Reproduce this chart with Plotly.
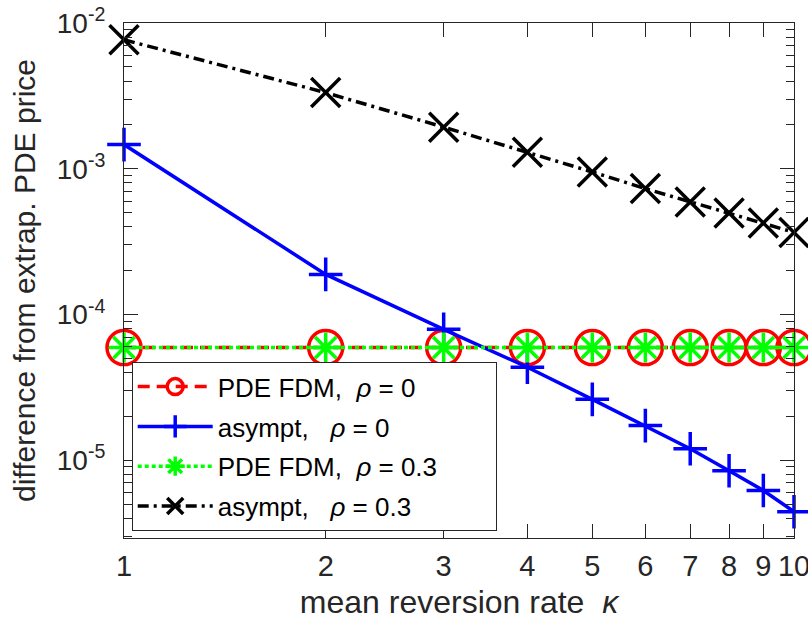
import plotly.graph_objects as go

kappa = [1, 2, 3, 4, 5, 6, 7, 8, 9, 10]
pde_rho0 = [5.93e-5, 5.93e-5, 5.93e-5, 5.93e-5, 5.93e-5, 5.93e-5, 5.93e-5, 5.93e-5, 5.93e-5, 5.93e-5]
asy_rho0 = [1.465e-3, 1.885e-4, 7.92e-5, 4.35e-5, 2.62e-5, 1.73e-5, 1.20e-5, 8.47e-6, 6.21e-6, 4.44e-6]
pde_rho3 = [5.93e-5, 5.93e-5, 5.93e-5, 5.93e-5, 5.93e-5, 5.93e-5, 5.93e-5, 5.93e-5, 5.93e-5, 5.93e-5]
asy_rho3 = [7.67e-3, 3.33e-3, 1.93e-3, 1.30e-3, 9.51e-4, 7.31e-4, 5.92e-4, 4.98e-4, 4.25e-4, 3.66e-4]

names = ["PDE FDM,\u00a0\u00a0<i>ρ</i> = 0",
         "asympt,\u00a0\u00a0\u00a0<i>ρ</i> = 0",
         "PDE FDM,\u00a0\u00a0<i>ρ</i> = 0.3",
         "asympt,\u00a0\u00a0\u00a0<i>ρ</i> = 0.3"]

x_ticks = [1, 2, 3, 4, 5, 6, 7, 8, 9, 10]
x_ticktext = ["1", "2", "3", "4", "5", "6", "7", "8", "9", "10"]
y_major = [1e-5, 1e-4, 1e-3, 1e-2]
y_major_text = ["10<sup>-5</sup>", "10<sup>-4</sup>", "10<sup>-3</sup>", "10<sup>-2</sup>"]
y_minor = [m * 10.0 ** e for e in (-6, -5, -4, -3) for m in range(2, 10) if 3e-6 <= m * 10.0 ** e <= 1e-2]

FONT = "Liberation Sans, Arial, Helvetica, sans-serif"
AX = "#262626"
TXT = "#262626"

fig = go.Figure()
fig.add_trace(go.Scatter(x=kappa, y=pde_rho0, name=names[0], mode="lines+markers", legendgroup="a",
                         cliponaxis=False,
                         line=dict(color="#ff0000", width=3.5, dash="12px,7px"),
                         marker=dict(symbol="circle-open", size=34, color="#ff0000", line=dict(width=3.5, color="#ff0000"))))
fig.add_trace(go.Scatter(x=kappa, y=asy_rho0, name=names[1], mode="lines+markers", legendgroup="b",
                         cliponaxis=False,
                         line=dict(color="#0000ff", width=3.5),
                         marker=dict(symbol="cross-thin-open", size=24, color="#0000ff", line=dict(width=3.5, color="#0000ff"))))
fig.add_trace(go.Scatter(x=kappa, y=pde_rho3, name=names[2], mode="lines+markers", legendgroup="c",
                         cliponaxis=False,
                         line=dict(color="#00ff00", width=3.5, dash="4px,3px"),
                         marker=dict(symbol="asterisk-open", size=25, color="#00ff00", line=dict(width=3.5, color="#00ff00"))))
fig.add_trace(go.Scatter(x=kappa, y=asy_rho3, name=names[3] + "\u00a0" * 11, mode="lines+markers", legendgroup="d",
                         cliponaxis=False,
                         line=dict(color="#000000", width=3.5, dash="11px,5px,3px,5px"),
                         marker=dict(symbol="x-thin-open", size=29, color="#000000", line=dict(width=3.5, color="#000000"))))

y_lo, y_hi = -5.533, -2.0

fig.update_layout(
    width=808, height=624,
    margin=dict(l=124, r=14, t=23, b=86),
    paper_bgcolor="white", plot_bgcolor="white",
    font=dict(family=FONT, size=26, color=TXT),
    showlegend=True,
    legend=dict(x=0.0115, y=0.3414, xanchor="left", yanchor="top",
                bgcolor="white", bordercolor=AX, borderwidth=1,
                font=dict(family=FONT, size=26, color="#000000"),
                itemwidth=75, tracegroupgap=3, itemsizing="trace"),
    xaxis=dict(type="log", range=[0, 1], tickvals=x_ticks, ticktext=x_ticktext,
               ticks="inside", ticklen=14, tickcolor=AX, tickwidth=1,
               showline=True, linecolor=AX, linewidth=1, mirror="ticks",
               showgrid=False, zeroline=False, ticklabelstandoff=2, automargin=False,
               ticklabeloverflow="allow",
               tickfont=dict(family=FONT, size=29, color=TXT),
               title=dict(text="\u00a0\u00a0mean reversion rate\u00a0\u00a0<i>κ</i>", standoff=9,
                          font=dict(family=FONT, size=32, color=TXT))),
    yaxis=dict(type="log", range=[y_lo, y_hi], tickvals=y_major, ticktext=y_major_text,
               ticks="inside", ticklen=14, tickcolor=AX, tickwidth=1,
               showline=True, linecolor=AX, linewidth=1, mirror="ticks",
               showgrid=False, zeroline=False, ticklabelstandoff=12, automargin=False,
               tickfont=dict(family=FONT, size=28, color=TXT),
               minor=dict(tickmode="array", tickvals=y_minor, ticks="inside", ticklen=8,
                          tickcolor=AX, tickwidth=1, showgrid=False),
               title=dict(text="difference from extrap. PDE price", standoff=12,
                          font=dict(family=FONT, size=30, color=TXT))),
)

fig.write_html("out.html", config={"displayModeBar": False},
               post_script="document.body.style.margin='0';document.documentElement.style.overflow='hidden';")
